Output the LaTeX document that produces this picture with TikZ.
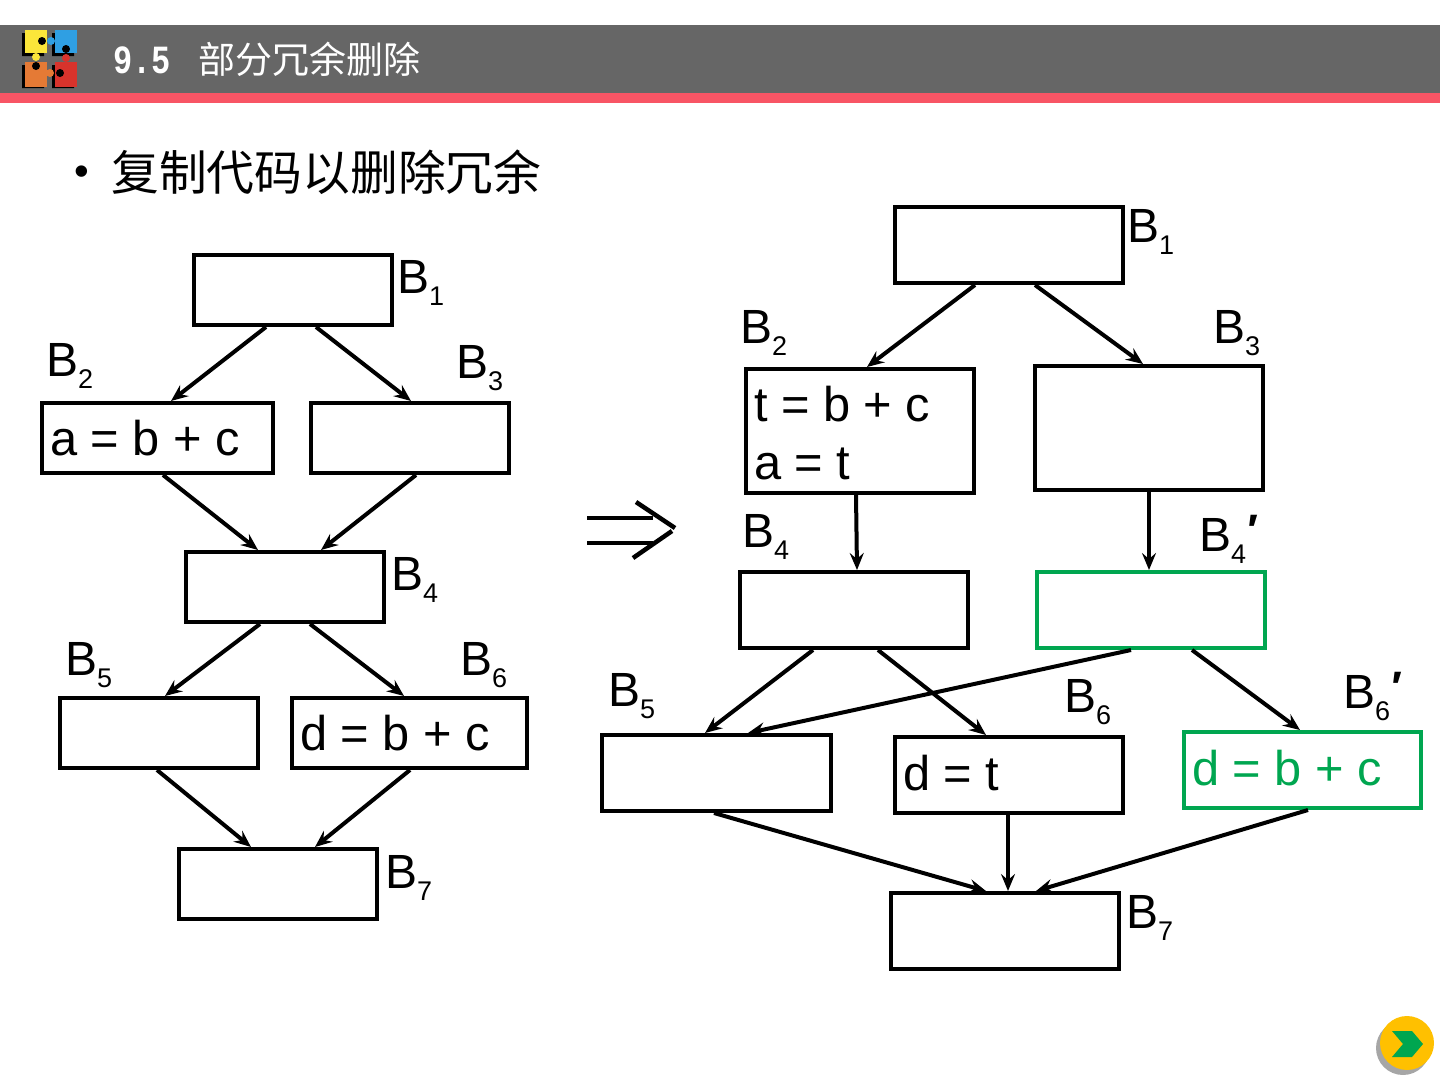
\documentclass[tikz,border=0pt]{standalone}
\usepackage{fontspec}
\setmainfont{Liberation Sans}
\newfontfamily\cjkfont{Noto Sans CJK SC}
\newfontfamily\titlefont[FakeStretch=0.8]{Liberation Mono}
\usetikzlibrary{arrows.meta}
\definecolor{headgray}{HTML}{666666}
\definecolor{headred}{HTML}{F85565}
\definecolor{newgreen}{HTML}{00A650}
\definecolor{btnyellow}{HTML}{FFC000}
\definecolor{pzyellow}{HTML}{FBE63A}
\definecolor{pzblue}{HTML}{2F9FE3}
\definecolor{pzorange}{HTML}{E57A35}
\definecolor{pzred}{HTML}{D8332C}
\newcommand{\blk}[2]{B\raisebox{-12pt}{\fontsize{27}{27}\selectfont #1}#2}
\newcommand{\prm}{\raisebox{6pt}{\kern-1pt\bfseries\itshape\fontsize{44}{44}\selectfont ′}}

\begin{document}
\begin{tikzpicture}[x=1pt,y=-1pt,
  box/.style={draw=black,line width=4pt,inner xsep=8pt,inner ysep=0pt,
              font=\fontsize{48.8}{58}\selectfont,align=flush left},
  lab/.style={anchor=base west,inner sep=0pt,font=\fontsize{48}{58}\selectfont},
  arr/.style={-{Stealth[length=17pt,width=14pt,inset=6pt]},line width=4pt,draw=black},
  dbl/.style={line width=4.5pt,draw=black}
]
\useasboundingbox (0,0) rectangle (1440,1080);
% header
\fill[headgray] (0,25) rectangle (1440,93);
\fill[headred] (0,93) rectangle (1440,103);
\fill[black] (22,33) rectangle (44,56) (52,33) rectangle (74,56) (22,65) rectangle (44,88) (52,65) rectangle (74,88);
\fill[pzyellow] (25,30) rectangle (47,53);
\fill[pzblue] (55,30) rectangle (77,53);
\fill[pzorange] (25,62) rectangle (47,87);
\fill[pzred] (55,62) rectangle (77,87);
\fill[black] (42,41) circle (4) (66,49) circle (4) (36,66) circle (4) (60,73) circle (4);
\fill[pzyellow] (36,57) circle (4);
\fill[pzblue] (51,41) circle (4);
\fill[pzorange] (50,73) circle (4);
\fill[pzred] (66,58) circle (4);
\node[anchor=base west,inner sep=0pt,text=white,font=\titlefont\bfseries\fontsize{40}{40}\selectfont] (sec) at (113,73) {9.5};
\node[anchor=base west,inner sep=0pt,text=white,font=\cjkfont\fontsize{37}{37}\selectfont] (title) at (198,73) {部分冗余删除};
\node[anchor=base west,inner sep=0pt,font=\fontsize{42}{42}\selectfont] (dot) at (74,185) {•};
\node[anchor=base west,inner sep=0pt,font=\cjkfont\fontsize{47.8}{48}\selectfont] (intro) at (111,190) {复制代码以删除冗余};

% left graph
\node[box,minimum width=198pt,minimum height=70pt] (l1) at (293,290) {};
\node[box,minimum width=231pt,minimum height=70pt,text width=215pt] (l2) at (157.5,438) {a = b + c};
\node[box,minimum width=198pt,minimum height=70pt] (l3) at (410,438) {};
\node[box,minimum width=198pt,minimum height=70pt] (l4) at (284.5,587) {};
\node[box,minimum width=198pt,minimum height=70pt] (l5) at (159,733) {};
\node[box,minimum width=235pt,minimum height=70pt,text width=219pt] (l6) at (409.5,733) {d = b + c};
\node[box,minimum width=198pt,minimum height=70pt] (l7) at (278,884) {};
\node[lab] (ll1) at (397,293) {\blk{1}{}};
\node[lab] (ll2) at (46,376) {\blk{2}{}};
\node[lab] (ll3) at (456,378) {\blk{3}{}};
\node[lab] (ll4) at (391,590) {\blk{4}{}};
\node[lab] (ll5) at (65,675) {\blk{5}{}};
\node[lab] (ll6) at (460,675) {\blk{6}{}};
\node[lab] (ll7) at (385,888) {\blk{7}{}};
\draw[arr] ([xshift=-27pt]l1.south) -- ([xshift=13.5pt]l2.north);
\draw[arr] ([xshift=23pt]l1.south) -- ([xshift=1pt]l3.north);
\draw[arr] ([xshift=5.5pt]l2.south) -- ([xshift=-26.5pt]l4.north);
\draw[arr] ([xshift=6pt]l3.south) -- ([xshift=36.5pt]l4.north);
\draw[arr] ([xshift=-24.5pt]l4.south) -- ([xshift=6pt]l5.north);
\draw[arr] ([xshift=25.5pt]l4.south) -- ([xshift=-5.5pt]l6.north);
\draw[arr] ([xshift=-2pt]l5.south) -- ([xshift=-27pt]l7.north);
\draw[arr] ([xshift=0.5pt]l6.south) -- ([xshift=37pt]l7.north);

% double arrow
\coordinate (d1) at (587,518);
\coordinate (d2) at (653,518);
\coordinate (d3) at (587,543);
\coordinate (d4) at (653,543);
\draw[dbl] (d1) -- (d2);
\draw[dbl] (d3) -- (d4);
\draw[dbl] (636,502) -- (675,528);
\draw[dbl] (633,558) -- (672,531);

% right graph
\node[box,minimum width=228pt,minimum height=76pt] (r1) at (1009,245) {};
\node[box,minimum width=228pt,minimum height=124pt,text width=212pt,text height=40pt] (r2) at (860,431) {t = b + c\\a = t};
\node[box,minimum width=228pt,minimum height=124pt] (r3) at (1149,428) {};
\node[box,minimum width=228pt,minimum height=76pt] (r4) at (854,610) {};
\node[box,draw=newgreen,minimum width=228pt,minimum height=76pt] (r4p) at (1151,610) {};
\node[box,minimum width=229pt,minimum height=76pt] (r5) at (716.5,773) {};
\node[box,minimum width=228pt,minimum height=76pt,text width=212pt,text depth=4pt] (r6) at (1009,775) {d = t};
\node[box,draw=newgreen,text=newgreen,minimum width=237pt,minimum height=76pt,text width=221pt,text depth=4pt] (r6p) at (1302.5,770) {d = b + c};
\node[box,minimum width=228pt,minimum height=76pt] (r7) at (1005,931) {};
\node[lab] (rl1) at (1127,242) {\blk{1}{}};
\node[lab] (rl2) at (740,343) {\blk{2}{}};
\node[lab] (rl3) at (1213,343) {\blk{3}{}};
\node[lab] (rl4) at (742,547) {\blk{4}{}};
\node[lab] (rl4p) at (1199,551) {\blk{4}{\prm}};
\node[lab] (rl5) at (608,706) {\blk{5}{}};
\node[lab] (rl6) at (1064,712) {\blk{6}{}};
\node[lab] (rl6p) at (1343,708) {\blk{6}{\prm}};
\node[lab] (rl7) at (1126,928) {\blk{7}{}};
\draw[arr] ([xshift=-34pt]r1.south) -- ([xshift=7pt]r2.north);
\draw[arr] ([xshift=26pt]r1.south) -- ([xshift=-6pt]r3.north);
\draw[arr] ([xshift=-4pt]r2.south) -- ([xshift=3pt]r4.north);
\draw[arr] (r3.south) -- ([xshift=-2pt]r4p.north);
\draw[arr] ([xshift=-41pt]r4.south) -- ([xshift=-11.5pt]r5.north);
\draw[arr] ([xshift=24pt]r4.south) -- ([xshift=-23pt]r6.north);
\draw[arr] ([xshift=-20pt]r4p.south) -- ([xshift=31.5pt]r5.north);
\draw[arr] ([xshift=41pt]r4p.south) -- ([xshift=-2.5pt]r6p.north);
\draw[arr] ([xshift=-2.5pt]r5.south) -- ([xshift=-19pt]r7.north);
\draw[arr] ([xshift=-1pt]r6.south) -- ([xshift=3pt]r7.north);
\draw[arr] ([xshift=5.5pt]r6p.south) -- ([xshift=31pt]r7.north);

% next button
\fill[gray!70] (1403,1048) circle (27);
\fill[btnyellow] (1407,1043) circle (27);
\fill[newgreen] (1392,1031) -- (1412,1031) -- (1423,1044) -- (1412,1057) -- (1392,1057) -- (1403,1044) -- cycle;
\end{tikzpicture}
\end{document}
